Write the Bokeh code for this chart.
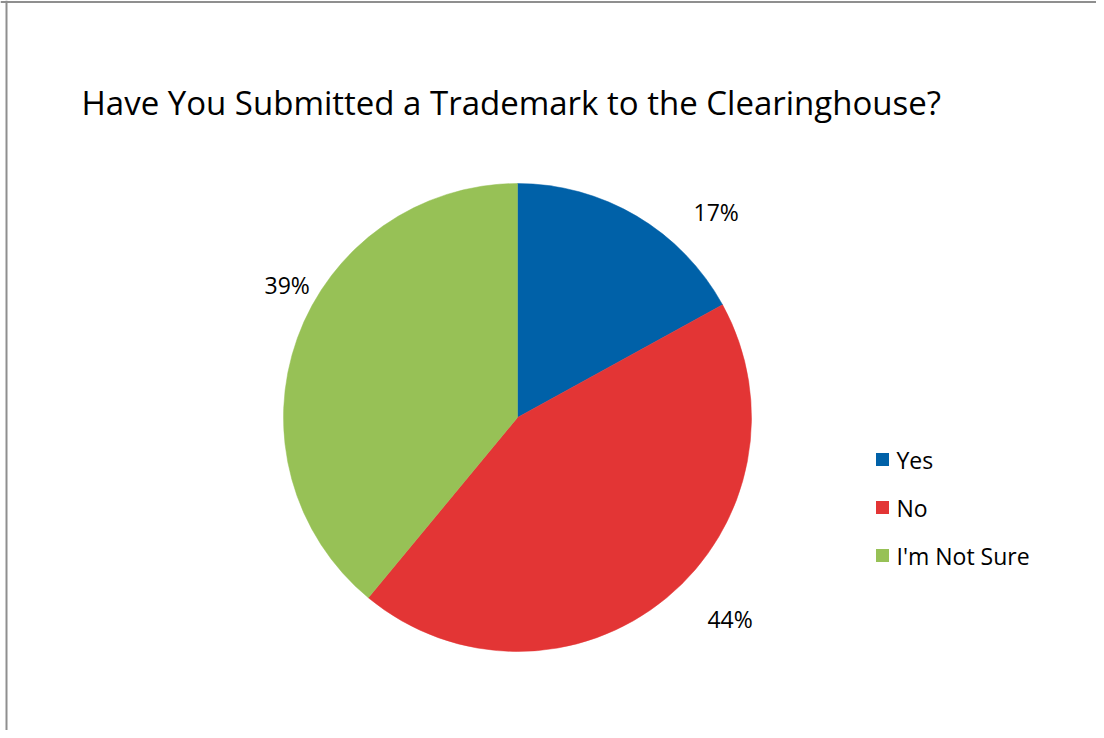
import math
from bokeh.plotting import figure
from bokeh.models import Range1d, Span, ColumnDataSource
from bokeh.core.properties import value
from bokeh.embed import file_html
from bokeh.resources import INLINE

# ---- data ----
title_text = "Have You Submitted a Trademark to the Clearinghouse?"
categories = ["Yes", "No", "I'm Not Sure"]
percents = [17, 44, 39]
colors = ["#0061A8", "#E33535", "#97C156"]

# ---- layout (canvas pixel space, y measured from top) ----
W, H = 1096, 730
FONT = "Open Sans"
cx, cy_top, R = 517, 417, 234
cy = H - cy_top
label_angle = [46.0, -43.5, 150.0]   # label placement angles (deg)
label_dist = [286, 293, 266]

p = figure(width=W, height=H, output_backend="svg", toolbar_location=None,
           x_range=Range1d(0, W), y_range=Range1d(0, H),
           min_border=0, outline_line_color=None)
p.axis.visible = False
p.grid.visible = False
p.background_fill_color = "white"
p.border_fill_color = "white"

# border lines of the chart area
p.add_layout(Span(location=6, dimension="height", line_color="#8f8f8f", line_width=2))
p.add_layout(Span(location=H - 1.5, dimension="width", line_color="#8f8f8f", line_width=2))

# wedges
total = sum(percents)
starts, ends = [], []
a = 90.0
for v in percents:
    starts.append(math.radians(a))
    a -= v / total * 360.0
    ends.append(math.radians(a))
src = ColumnDataSource(dict(start=starts, end=ends, color=colors,
                            x=[cx] * 3, y=[cy] * 3))
p.wedge(x="x", y="y", radius=R, start_angle="start", end_angle="end",
        direction="clock", fill_color="color", line_color="color", line_width=0.5,
        source=src)

# percent labels
lx = [cx + d * math.cos(math.radians(t)) for t, d in zip(label_angle, label_dist)]
ly = [cy + d * math.sin(math.radians(t)) for t, d in zip(label_angle, label_dist)]
p.text(x=lx, y=ly, text=[f"{v}%" for v in percents],
       text_font=value(FONT), text_font_size="23px", text_color="#000000",
       text_align="center", text_baseline="middle")

# title
p.text(x=[81], y=[H - 102], text=[title_text], text_font=value(FONT),
       text_font_size="33px", text_color="#000000",
       text_align="left", text_baseline="middle")

# legend
leg_y = [H - (459 + 48 * i) for i in range(len(categories))]
p.scatter(x=[882] * len(categories), y=leg_y, marker="square", size=13,
          fill_color=colors, line_color=None)
p.text(x=[896] * len(categories), y=leg_y, text=categories, text_font=value(FONT),
       text_font_size="23px", text_color="#000000",
       text_align="left", text_baseline="middle")

open("out.html", "w").write(file_html(p, INLINE))
